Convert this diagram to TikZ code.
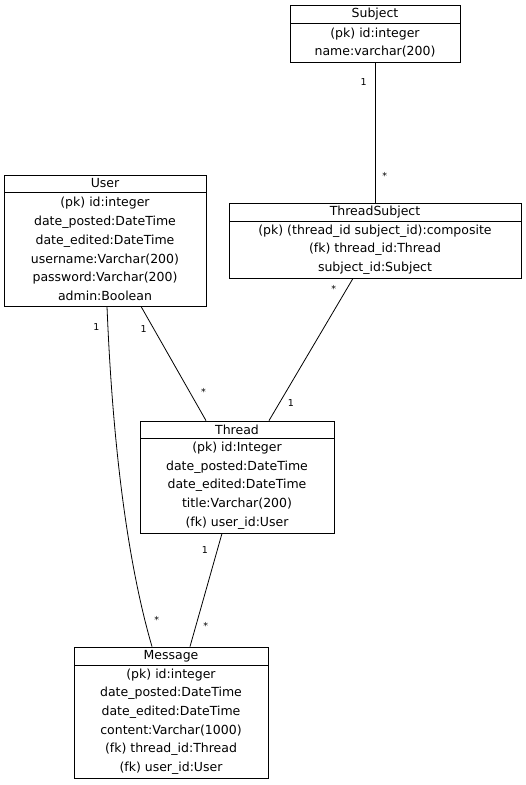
\documentclass[tikz,border=0pt]{standalone}
\usepackage{fontspec}
\setmainfont{DejaVu Sans}
\usetikzlibrary{positioning, calc}

\begin{document}
\begin{tikzpicture}[x=1pt, y=-1pt,
  tblhead/.style={draw, line width=0.8pt, inner sep=0pt, font=\fontsize{12.5}{12.5}\selectfont},
  tblbody/.style={draw, line width=0.8pt, inner sep=0pt, align=center, font=\fontsize{12.5}{18.7}\selectfont},
  rel/.style={line width=0.8pt},
  mult/.style={font=\fontsize{9.5}{9.5}\selectfont, inner sep=0pt}]
  \newcommand\tblpartspacing{-0.8pt} % borders overlap
  \useasboundingbox (0,0) rectangle (526,785);

  % tables
  \node[tblhead, minimum width=170pt, minimum height=18pt] at (375, 14) (subjecthead) {Subject};
  \node[tblbody, minimum width=170pt, minimum height=39pt, below=\tblpartspacing of subjecthead] (subjectbody) {(pk) id:integer\\name:varchar(200)};

  \node[tblhead, minimum width=202pt, minimum height=17pt] at (105, 183.5) (userhead) {User};
  \node[tblbody, minimum width=202pt, minimum height=114pt, below=\tblpartspacing of userhead] (userbody) {(pk) id:integer\\date\_posted:DateTime\\date\_edited:DateTime\\username:Varchar(200)\\password:Varchar(200)\\admin:Boolean};

  \node[tblhead, minimum width=292pt, minimum height=18pt] at (375, 212) (tsubjecthead) {ThreadSubject};
  \node[tblbody, minimum width=292pt, minimum height=57pt, below=\tblpartspacing of tsubjecthead] (tsubjectbody) {(pk) (thread\_id subject\_id):composite\\(fk) thread\_id:Thread\\subject\_id:Subject};

  \node[tblhead, minimum width=194pt, minimum height=17pt] at (237, 429.5) (threadhead) {Thread};
  \node[tblbody, minimum width=194pt, minimum height=95pt, below=\tblpartspacing of threadhead] (threadbody) {(pk) id:Integer\\date\_posted:DateTime\\date\_edited:DateTime\\title:Varchar(200)\\(fk) user\_id:User};

  \node[tblhead, minimum width=194pt, minimum height=18pt] at (171, 656) (messagehead) {Message};
  \node[tblbody, minimum width=194pt, minimum height=113pt, below=\tblpartspacing of messagehead] (messagebody) {(pk) id:integer\\date\_posted:DateTime\\date\_edited:DateTime\\content:Varchar(1000)\\(fk) thread\_id:Thread\\(fk) user\_id:User};

  % relations
  \draw[rel] (subjectbody.south) -- node[mult, pos=0.14, left=8pt] {1} node[mult, pos=0.81, right=7pt] {*} (tsubjecthead.north);
  \draw[rel] ($(tsubjectbody.south)+(-22pt,0)$) -- node[mult, pos=0.077, left=10pt] {*} node[mult, pos=0.874, right=8pt] {1} ($(threadhead.north)+(32pt,0)$);
  \draw[rel] ($(userbody.south)+(36pt,0)$) -- node[mult, pos=0.2, left=7pt] {1} node[mult, pos=0.748, right=11pt] {*} ($(threadhead.north)+(-31pt,0)$);
  \draw[rel] ($(threadbody.south)+(-15pt,0)$) -- node[mult, pos=0.149, left=9pt] {1} node[mult, pos=0.816, right=7pt] {*} ($(messagehead.north)+(19pt,0)$);
  \draw[rel] ($(userbody.south)+(2pt,0)$) .. controls (114, 480) and (134, 585) .. node[mult, pos=0.04, left=8pt] {1} node[mult, pos=0.87, right=9pt] {*} ($(messagehead.north)+(-19pt,0)$);
\end{tikzpicture}
\end{document}
